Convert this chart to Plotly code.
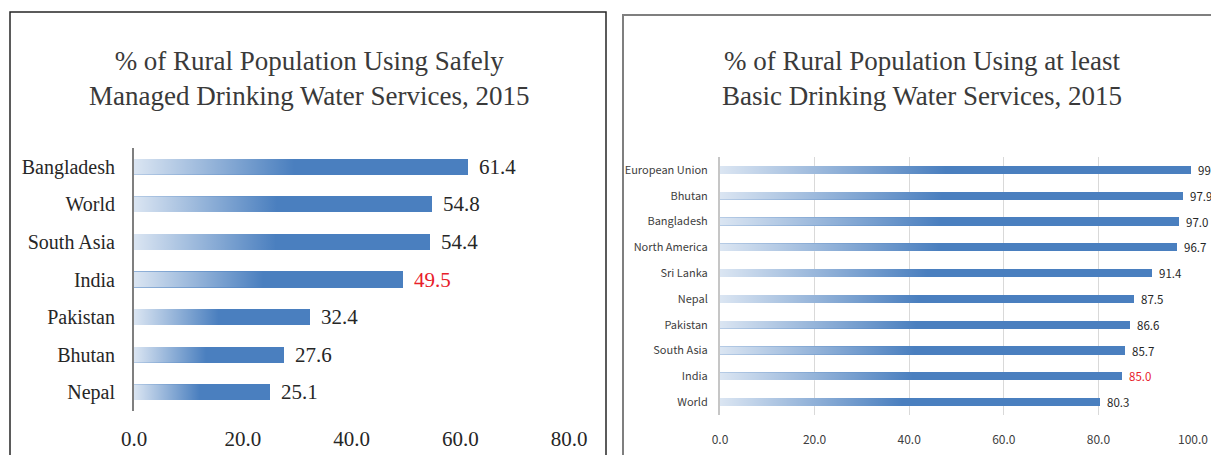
import plotly.graph_objects as go

W, H = 1211, 455

# ---------------- data ----------------
left_title = "% of Rural Population Using Safely<br>Managed Drinking Water Services, 2015"
left_categories = ["Bangladesh", "World", "South Asia", "India", "Pakistan", "Bhutan", "Nepal"]
left_values = [61.4, 54.8, 54.4, 49.5, 32.4, 27.6, 25.1]
left_ticks = [0, 20, 40, 60, 80]
left_ticklabels = ["0.0", "20.0", "40.0", "60.0", "80.0"]

right_title = "% of Rural Population Using at least<br>Basic Drinking Water Services, 2015"
right_categories = ["European Union", "Bhutan", "Bangladesh", "North America", "Sri Lanka",
                    "Nepal", "Pakistan", "South Asia", "India", "World"]
right_values = [99.5, 97.9, 97.0, 96.7, 91.4, 87.5, 86.6, 85.7, 85.0, 80.3]
right_ticks = [0, 20, 40, 60, 80, 100]
right_ticklabels = ["0.0", "20.0", "40.0", "60.0", "80.0", "100.0"]

highlight = "India"

# ---------------- styles ----------------
BLUE = "#4a7fbf"
RED = "#e8202a"
SERIF = "Liberation Serif, Times New Roman, serif"
NARROW = "Noto Sans CJK SC, Liberation Sans Narrow, Arial Narrow, sans-serif"
GRAD = [[0, "rgba(255,255,255,0.80)"], [0.48, "rgba(255,255,255,0)"], [1, "rgba(255,255,255,0)"]]

def px(x):
    return x / W

def py(y):
    return 1 - y / H

fig = go.Figure()
annotations = []

def add_panel(cats, vals, xa, ya, bar_w, label_font, label_size, label_shift):
    n = len(cats)
    pos = [n - 1 - i for i in range(n)]
    fig.add_trace(go.Bar(
        x=vals, y=pos, orientation="h", width=bar_w,
        marker=dict(color=BLUE, line=dict(width=0)),
        xaxis=xa, yaxis=ya, showlegend=False,
        hovertext=cats, hoverinfo="text+x",
    ))
    hw = bar_w / 2
    for v, p in zip(vals, pos):
        fig.add_trace(go.Scatter(
            x=[0, v, v, 0, 0], y=[p - hw, p - hw, p + hw, p + hw, p - hw],
            mode="lines", line=dict(width=0), fill="toself",
            fillgradient=dict(type="horizontal", colorscale=GRAD),
            xaxis=xa, yaxis=ya, showlegend=False, hoverinfo="skip",
        ))
    for c, v, p in zip(cats, vals, pos):
        annotations.append(dict(
            x=v, y=p, xref=xa, yref=ya, text=f"{v:.1f}", showarrow=False,
            xanchor="left", yanchor="middle", xshift=label_shift,
            font=dict(family=label_font, size=label_size,
                      color=RED if c == highlight else "#262626"),
        ))
    return pos

lpos = add_panel(left_categories, left_values, "x", "y", 0.43, SERIF, 21, 9)
rpos = add_panel(right_categories, right_values, "x2", "y2", 0.32, NARROW, 11.5, 5)

# titles
annotations.append(dict(x=px(309), y=py(78), xref="paper", yref="paper", text=left_title,
                        showarrow=False, xanchor="center", yanchor="middle",
                        font=dict(family=SERIF, size=27, color="#3a3a3a")))
annotations.append(dict(x=px(922), y=py(78), xref="paper", yref="paper", text=right_title,
                        showarrow=False, xanchor="center", yanchor="middle",
                        font=dict(family=SERIF, size=27, color="#3a3a3a")))

# panel frames
shapes = [
    dict(type="path", xref="paper", yref="paper",
         path=f"M {px(10)},{py(470)} L {px(10)},{py(12)} L {px(606)},{py(12)} L {px(606)},{py(470)}",
         line=dict(color="#262626", width=1.5)),
    dict(type="path", xref="paper", yref="paper",
         path=f"M {px(623)},{py(470)} L {px(623)},{py(15)} L {px(1230)},{py(15)}",
         line=dict(color="#7f7f7f", width=2)),
]

nl, nr = len(left_categories), len(right_categories)

fig.update_layout(
    width=W, height=H,
    margin=dict(l=0, r=0, t=0, b=0, pad=0, autoexpand=False),
    paper_bgcolor="white", plot_bgcolor="white",
    showlegend=False,
    bargap=0,
    annotations=annotations,
    shapes=shapes,
    xaxis=dict(domain=[px(134), px(569)], range=[0, 80], tickvals=left_ticks,
               ticktext=left_ticklabels, showgrid=False, zeroline=False, showline=False,
               ticks="", ticklabelstandoff=13, anchor="y", automargin=False,
               tickfont=dict(family=SERIF, size=21, color="#262626"), fixedrange=True),
    yaxis=dict(domain=[py(411), py(148)], range=[-0.5, nl - 0.5], tickvals=lpos,
               ticktext=left_categories, showgrid=False, zeroline=False, showline=True,
               linecolor="#7f7f7f", linewidth=2, ticks="", ticklabelstandoff=13,
               anchor="x", automargin=False,
               tickfont=dict(family=SERIF, size=20, color="#262626"), fixedrange=True),
    xaxis2=dict(domain=[px(720), px(1193)], range=[0, 100], tickvals=right_ticks,
                ticktext=right_ticklabels, showgrid=True, gridcolor="#d9d9d9", gridwidth=1,
                zeroline=False, showline=False, ticks="", ticklabelstandoff=16, anchor="y2",
                automargin=False,
                tickfont=dict(family=NARROW, size=12, color="#404040"), fixedrange=True),
    yaxis2=dict(domain=[py(415), py(157)], range=[-0.5, nr - 0.5], tickvals=rpos,
                ticktext=right_categories, showgrid=False, zeroline=False, showline=True,
                linecolor="#c6c6c6", linewidth=2, ticks="", ticklabelstandoff=8,
                anchor="x2", automargin=False,
                tickfont=dict(family=NARROW, size=11, color="#404040"), fixedrange=True),
)

fig.write_html(
    "out.html",
    config={"displayModeBar": False},
    post_script="document.body.style.margin='0px';document.body.style.overflow='hidden';",
)
